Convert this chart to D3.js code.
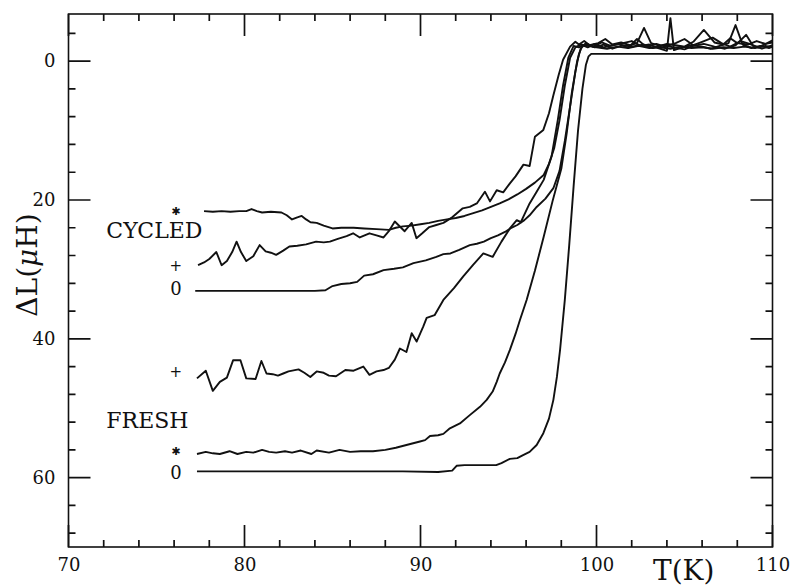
<!DOCTYPE html>
<html>
<head>
<meta charset="utf-8">
<script src="https://cdn.jsdelivr.net/npm/d3@7"></script>
<style>
  body { margin: 0; background: #fff; }
  svg { display: block; }
  .axis text { font-family: "DejaVu Serif", serif; font-size: 18px; fill: #111; }
  .axis path, .axis line { display: none; }
</style>
</head>
<body>
<svg id="chart" width="792" height="586"></svg>
<script>
'use strict';

// tick values
const xMajor = [70, 80, 90, 100, 110];
const xMinor = [72, 74, 76, 78, 82, 84, 86, 88, 92, 94, 96, 98, 102, 104, 106, 108];
const yMajor = [0, 20, 40, 60];
const yMinor = [-4, 4, 8, 12, 16, 24, 28, 32, 36, 44, 48, 52, 56, 64, 68];

// curves, [T (K), deltaL (uH)]
const cycledStar = [[77.7,21.6],[78.2,21.7],[78.7,21.6],[79.2,21.7],[79.7,21.6],[80.1,21.6],[80.4,21.3],[80.7,21.6],[81.0,21.8],[81.5,21.7],[82.1,21.8],[82.4,22.2],[82.7,22.8],[83.0,22.5],[83.25,22.3],[83.5,22.8],[83.75,23.2],[84.1,23.3],[84.5,23.7],[85.0,24.1],[85.5,24.0],[86.2,24.0],[86.8,24.1],[87.5,24.2],[88.2,24.3],[88.6,24.0],[89.0,23.8],[89.5,23.7],[90.0,23.5],[90.5,23.3],[91.0,23.0],[91.5,22.8],[92.0,22.6],[92.5,22.3],[93.0,21.9],[93.5,21.5],[94.0,21.0],[94.5,20.5],[95.0,19.9],[95.5,19.2],[96.0,18.4],[96.5,17.5],[97.0,16.4],[97.3,14.8],[97.6,12.5],[97.9,8.5],[98.2,3.5],[98.5,-0.5],[98.8,-2.0],[99.1,-2.4],[99.5,-2.2],[100.0,-2.0],[100.6,-1.8],[101.2,-2.1],[101.8,-1.9],[102.4,-2.2],[103.0,-1.9],[103.6,-2.0],[104.2,-1.8],[104.8,-2.1],[105.4,-1.9],[106.0,-2.0],[106.6,-1.8],[107.2,-2.0],[107.8,-1.9],[108.4,-2.1],[109.0,-1.9],[109.6,-2.2],[110,-2.0]];

const cycledPlus = [[77.36,29.4],[77.7,29.0],[78.0,28.5],[78.4,27.5],[78.7,29.4],[79.0,28.8],[79.3,27.5],[79.55,26.0],[79.8,27.5],[80.1,28.8],[80.5,28.1],[80.86,26.5],[81.2,27.4],[81.5,27.6],[81.8,27.9],[82.2,27.3],[82.55,26.7],[83.0,26.6],[83.5,26.4],[84.07,26.0],[84.5,26.1],[84.85,26.0],[85.3,25.6],[85.8,25.2],[86.17,24.8],[86.55,25.4],[87.1,24.8],[87.5,25.1],[87.9,25.4],[88.2,24.5],[88.54,23.1],[89.1,24.5],[89.5,23.3],[89.77,25.5],[90.1,24.8],[90.5,23.9],[90.9,23.6],[91.3,23.3],[91.8,22.5],[92.4,21.2],[92.8,21.0],[93.2,20.5],[93.66,18.8],[93.95,20.2],[94.33,18.6],[94.7,18.9],[95.08,17.6],[95.4,16.6],[95.85,14.9],[96.2,15.1],[96.5,10.9],[96.98,9.9],[97.3,7.5],[97.55,4.9],[97.85,2.0],[98.1,-0.2],[98.5,-2.1],[98.8,-2.8],[99.0,-2.4],[99.3,-2.9],[99.6,-2.3],[100.1,-2.6],[100.5,-3.2],[100.9,-2.4],[101.4,-2.7],[101.9,-2.3],[102.3,-2.6],[102.7,-4.8],[103.1,-2.6],[103.6,-2.2],[104.0,-2.5],[104.5,-2.3],[105.0,-2.1],[105.5,-2.8],[106.1,-4.5],[106.7,-2.7],[107.2,-2.4],[107.6,-3.3],[108.0,-2.6],[108.6,-2.4],[109.1,-2.9],[109.6,-2.5],[110,-2.7]];

const cycledZero = [[77.2,33.1],[78,33.1],[79,33.1],[80,33.1],[81,33.1],[82,33.1],[83,33.1],[84,33.1],[84.6,33.0],[85.0,32.4],[85.5,32.1],[86.0,32.0],[86.4,31.8],[86.8,30.9],[87.3,30.7],[87.9,30.1],[88.5,29.9],[89.0,29.7],[89.6,29.1],[90.3,28.7],[90.9,28.2],[91.3,27.8],[91.7,27.7],[92.2,27.2],[92.8,26.5],[93.2,26.3],[93.6,26.0],[94.0,25.5],[94.4,25.1],[94.8,24.6],[95.1,24.1],[95.5,23.6],[95.9,22.9],[96.2,22.2],[96.6,21.0],[97.1,19.8],[97.55,18.3],[97.9,15.8],[98.2,11.5],[98.5,6.5],[98.8,1.5],[99.0,-1.0],[99.2,-2.3],[99.5,-2.0],[99.9,-2.5],[100.4,-2.0],[100.9,-2.3],[101.5,-2.6],[102.0,-2.9],[102.5,-2.2],[103.0,-2.4],[103.5,-1.9],[104.0,-1.5],[104.2,-6.2],[104.4,-1.6],[104.9,-2.0],[105.4,-2.3],[106.0,-2.1],[106.5,-1.8],[107.0,-2.2],[107.5,-2.6],[107.9,-5.2],[108.3,-2.4],[108.8,-1.9],[109.3,-2.2],[109.8,-1.9],[110,-2.1]];

const freshPlus = [[77.3,45.7],[77.8,44.6],[78.2,47.5],[78.6,46.2],[79.0,45.6],[79.35,43.1],[79.77,43.1],[80.1,45.7],[80.63,45.8],[80.96,43.2],[81.25,45.0],[81.6,45.1],[81.9,45.3],[82.2,45.0],[82.5,44.7],[83.07,44.4],[83.4,44.9],[83.74,45.5],[84.1,44.7],[84.5,44.9],[84.8,45.3],[85.2,45.4],[85.73,44.5],[86.2,44.6],[86.75,44.0],[87.1,45.2],[87.5,44.7],[87.9,44.5],[88.2,44.2],[88.54,43.0],[88.83,41.4],[89.2,41.9],[89.5,39.2],[89.78,40.4],[90.16,38.2],[90.35,37.0],[90.8,36.6],[91.3,34.4],[91.9,32.7],[92.43,31.0],[93.0,29.3],[93.57,27.7],[94.1,28.2],[94.6,26.0],[95.08,24.1],[95.47,22.9],[95.7,23.2],[96.2,20.5],[96.6,18.8],[97.0,17.1],[97.45,13.7],[97.8,8.5],[98.1,3.5],[98.4,-0.5],[98.7,-2.2],[99.0,-2.0],[99.4,-2.5],[99.9,-2.0],[100.4,-2.4],[100.9,-1.8],[101.5,-2.3],[102.0,-2.1],[102.7,-2.4],[103.2,-1.9],[103.8,-2.3],[104.4,-2.0],[105.0,-1.7],[105.5,-2.2],[106.1,-2.5],[106.7,-2.1],[107.3,-1.8],[107.9,-2.3],[108.5,-3.8],[108.9,-2.2],[109.4,-1.8],[110,-2.3]];

const freshStar = [[77.3,56.6],[77.8,56.3],[78.2,56.5],[78.6,56.6],[79.15,56.2],[79.6,56.6],[80.1,56.3],[80.5,56.4],[81.0,56.0],[81.4,56.3],[81.8,56.4],[82.3,56.2],[82.7,56.4],[83.2,56.1],[83.8,56.6],[84.1,56.1],[84.8,56.4],[85.4,56.0],[86.0,56.3],[86.6,56.2],[87.3,56.2],[88.0,56.0],[88.6,55.7],[89.2,55.3],[89.97,54.8],[90.26,54.6],[90.54,54.0],[91.0,53.9],[91.3,53.7],[91.67,52.9],[92.24,52.2],[92.8,51.0],[93.38,49.8],[93.76,48.8],[94.1,47.6],[94.33,46.2],[94.5,45.0],[94.8,43.4],[95.08,41.6],[95.4,39.3],[95.65,37.3],[96.03,34.4],[96.5,30.2],[97.0,25.3],[97.5,20.2],[98.0,15.5],[98.3,10.5],[98.6,4.5],[98.9,0.0],[99.1,-1.8],[99.4,-2.6],[99.8,-2.1],[100.3,-2.7],[100.8,-2.2],[101.3,-2.5],[101.8,-1.9],[102.3,-3.2],[102.8,-2.1],[103.4,-2.5],[103.9,-2.1],[104.5,-2.6],[105.0,-3.2],[105.5,-2.3],[106.0,-2.8],[106.6,-3.4],[107.1,-2.6],[107.6,-2.1],[108.2,-2.9],[108.7,-2.5],[109.2,-2.0],[109.7,-2.6],[110,-3.0]];

const freshZero = [[77.3,59.1],[80,59.1],[83,59.1],[86,59.1],[89,59.1],[91.0,59.2],[91.8,59.0],[92.05,58.3],[92.5,58.2],[93.5,58.2],[94.3,58.2],[94.6,57.9],[95.08,57.3],[95.5,57.2],[95.8,56.8],[96.2,56.3],[96.6,55.3],[96.98,53.6],[97.3,51.5],[97.55,48.8],[97.75,45.5],[97.93,41.6],[98.2,34.4],[98.45,26.5],[98.7,18.0],[98.95,10.0],[99.2,4.0],[99.4,0.5],[99.55,-0.7],[99.7,-1.05],[110,-1.05]];

// symbol labels beside each curve start, and group labels
const markerText = ['\u2731', '+', '0', '+', '\u2731', '0'];
const markerLevel = [21.6, 29.5, 32.7, 44.8, 56.2, 59.2];
const groupText = ['CYCLED', 'FRESH'];
const groupLevel = [25.5, 52.8];

const curves = [cycledStar, cycledPlus, cycledZero, freshPlus, freshStar, freshZero];

(function () {
    const svg = d3.select('#chart');
    const mLeft = 68.5, mRight = 772.5, mTop = 14, mBottom = 547;
    const majorLen = 22, minorLen = 7;

    const x = d3.scaleLinear().domain([70, 110]).range([mLeft, mRight]);
    const y = d3.scaleLinear().domain([-6.8, 70]).range([mTop, mBottom]);

    // tick labels from d3 axes
    svg.append('g').attr('class', 'axis').attr('transform', `translate(0,${mBottom})`)
        .call(d3.axisBottom(x).tickValues(xMajor).tickSize(0).tickPadding(11).tickFormat(d3.format('d')));
    svg.append('g').attr('class', 'axis').attr('transform', `translate(${mLeft},0)`)
        .call(d3.axisLeft(y).tickValues(yMajor).tickSize(0).tickPadding(13).tickFormat(d3.format('d')));

    // inward tick marks on all four sides
    let ticks = '';
    xMajor.concat(xMinor).forEach(function (d) {
        const len = xMajor.includes(d) ? majorLen : minorLen;
        ticks += `M${x(d)},${mBottom}v${-len}M${x(d)},${mTop}v${len}`;
    });
    yMajor.concat(yMinor).forEach(function (d) {
        const len = yMajor.includes(d) ? majorLen : minorLen;
        ticks += `M${mLeft},${y(d)}h${len}M${mRight},${y(d)}h${-len}`;
    });
    svg.append('path')
        .attr('d', ticks)
        .attr('fill', 'none')
        .attr('stroke', '#111')
        .attr('stroke-width', 1.7);

    // frame
    svg.append('rect')
        .attr('x', mLeft).attr('y', mTop)
        .attr('width', mRight - mLeft).attr('height', mBottom - mTop)
        .attr('fill', 'none').attr('stroke', '#111').attr('stroke-width', 1.6);

    // curves
    const line = d3.line().x(d => x(d[0])).y(d => y(d[1]));
    svg.selectAll('.curve')
        .data(curves)
        .enter()
        .append('path')
            .attr('class', 'curve')
            .attr('d', line)
            .attr('fill', 'none')
            .attr('stroke', '#111')
            .attr('stroke-width', 1.9)
            .attr('stroke-linejoin', 'round');

    // symbols
    svg.selectAll('.marker')
        .data(markerText)
        .enter()
        .append('text')
            .attr('class', 'marker')
            .attr('x', x(76.1))
            .attr('y', (d, i) => y(markerLevel[i]))
            .attr('text-anchor', 'middle')
            .attr('dominant-baseline', 'central')
            .style('font-family', d => d === '0' ? '"DejaVu Serif", serif' : '"DejaVu Sans", sans-serif')
            .style('font-size', d => d === '0' ? '18px' : (d === '+' ? '15px' : '11px'))
            .style('fill', '#111')
            .text(d => d);

    svg.selectAll('.group')
        .data(groupText)
        .enter()
        .append('text')
            .attr('class', 'group')
            .attr('x', x(72.15))
            .attr('y', (d, i) => y(groupLevel[i]))
            .style('font-family', '"DejaVu Serif", serif')
            .style('font-size', '22px')
            .style('fill', '#111')
            .text(d => d);

    // axis titles
    const yTitle = svg.append('text')
        .attr('transform', 'translate(37,265) rotate(-90)')
        .attr('text-anchor', 'middle')
        .style('font-family', '"DejaVu Serif", serif')
        .style('font-size', '28px')
        .style('fill', '#111');
    yTitle.append('tspan').text('ΔL(');
    yTitle.append('tspan').style('font-style', 'italic').text('μ');
    yTitle.append('tspan').text('H)');

    svg.append('text')
        .attr('x', 653).attr('y', 580)
        .style('font-family', '"DejaVu Serif", serif')
        .style('font-size', '28px')
        .style('fill', '#111')
        .text('T(K)');
})();
</script>
</body>
</html>
